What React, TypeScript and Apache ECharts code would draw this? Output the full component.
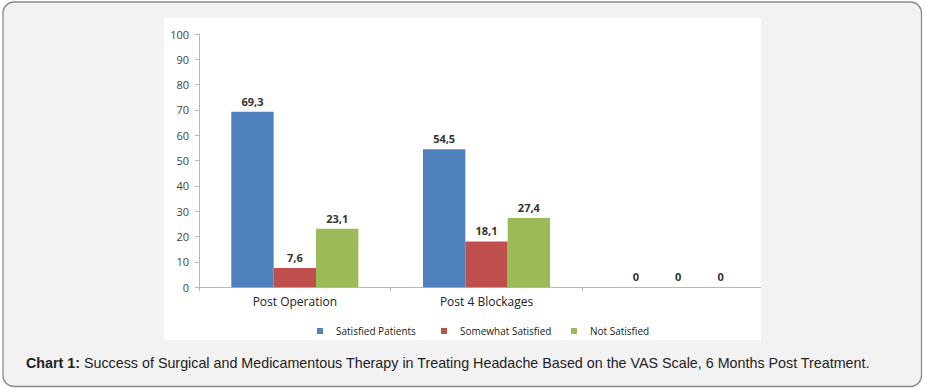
import React, { useEffect, useRef } from "react";
import * as echarts from "echarts";

const categories = ["Post Operation", "Post 4 Blockages", ""];
const satisfied = [69.3, 54.5, 0];
const somewhat = [7.6, 18.1, 0];
const notSatisfied = [23.1, 27.4, 0];
const seriesNames = ["Satisfied Patients", "Somewhat Satisfied", "Not Satisfied"];
const yTicks = [0, 100, 10];
const captionBold = "Chart 1:";
const captionText =
  " Success of Surgical and Medicamentous Therapy in Treating Headache Based on the VAS Scale, 6 Months Post Treatment.";

const colors = ["#4F81BD", "#C0504D", "#9BBB59"];
const chartFont = "'Open Sans', Lato, sans-serif";

export default function App() {
  const ref = useRef<HTMLDivElement>(null);
  useEffect(() => {
    if (!ref.current) return;
    const chart = echarts.init(ref.current, undefined, { renderer: "svg" });
    const label = {
      show: true,
      position: "top",
      distance: 5,
      fontSize: 11,
      fontWeight: "bold",
      color: "#333",
      fontFamily: chartFont,
      formatter: (p: any) => String(p.value).replace(".", ","),
    };
    const data = [satisfied, somewhat, notSatisfied];
    const legendLefts = [312, 436, 566];
    chart.setOption({
      animation: false,
      graphic: [
        {
          type: "rect",
          shape: { x: 3, y: 2, width: 918.5, height: 384.5, r: 11 },
          style: { fill: "#f2f2f2", stroke: "#8a8a8a", lineWidth: 1.3 },
          z: -10,
        },
        {
          type: "rect",
          shape: { x: 164, y: 18, width: 597, height: 322 },
          style: { fill: "#ffffff" },
          z: -9,
        },
        {
          type: "rect",
          shape: { x: 761, y: 17, width: 20, height: 324 },
          style: { fill: "#f2f2f2" },
          z: 100,
        },
        {
          type: "text",
          x: 26,
          y: 363,
          style: {
            text: "{b|" + captionBold + "}" + captionText,
            fontFamily: "'Liberation Sans', Arial, sans-serif",
            fontSize: 14.3,
            fill: "#222",
            verticalAlign: "middle",
            rich: {
              b: {
                fontWeight: "bold",
                fontFamily: "'Liberation Sans', Arial, sans-serif",
                fontSize: 14.3,
                fill: "#222",
              },
            },
          },
          z: 100,
        },
      ],
      legend: seriesNames.map((n, i) => ({
        data: [n],
        left: legendLefts[i],
        top: 321,
        itemWidth: 6,
        itemHeight: 6,
        icon: "rect",
        textStyle: {
          fontSize: 10,
          color: "#222",
          fontFamily: chartFont,
          padding: [0, 0, 0, 8],
        },
      })),
      grid: { left: 199, right: 152, top: 34, bottom: 101.7, containLabel: false },
      xAxis: {
        type: "category",
        data: categories,
        axisLine: { lineStyle: { color: "#b8b8b8", width: 1 } },
        axisTick: { show: true, length: 4, lineStyle: { color: "#b8b8b8" } },
        axisLabel: { fontSize: 12, color: "#222", margin: 8, fontFamily: chartFont },
      },
      yAxis: {
        type: "value",
        min: yTicks[0],
        max: yTicks[1],
        interval: yTicks[2],
        splitLine: { show: false },
        axisLine: { show: true, lineStyle: { color: "#b8b8b8", width: 1 } },
        axisTick: { show: true, length: 4, lineStyle: { color: "#b8b8b8" } },
        axisLabel: { fontSize: 11, color: "#444", margin: 10, fontFamily: chartFont },
      },
      series: seriesNames.map((n, i) => ({
        name: n,
        type: "bar",
        data: data[i],
        barGap: "0%",
        barCategoryGap: "33.7%",
        itemStyle: { color: colors[i] },
        label,
      })),
    });
    return () => chart.dispose();
  }, []);
  return (
    <div
      ref={ref}
      style={{ position: "absolute", left: 0, top: 0, width: 926, height: 389, background: "#ffffff" }}
    />
  );
}
